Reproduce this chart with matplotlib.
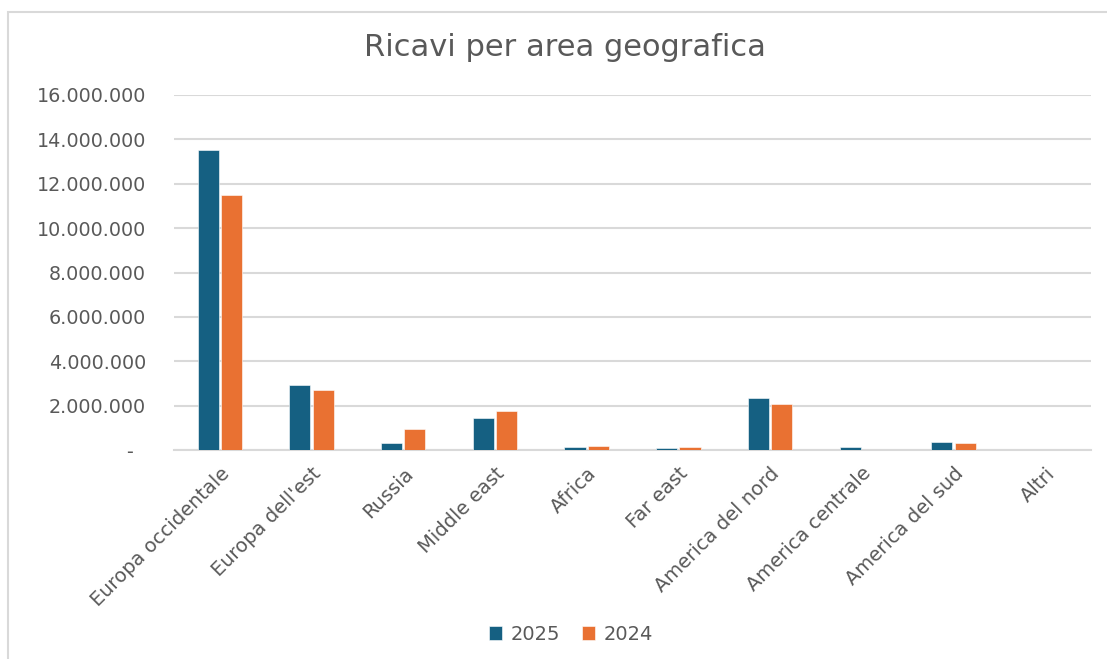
import matplotlib
matplotlib.use("Agg")
import matplotlib.pyplot as plt
import numpy as np
from matplotlib.patches import Rectangle
from matplotlib.ticker import FuncFormatter, MultipleLocator

categories = ["Europa occidentale", "Europa dell'est", "Russia", "Middle east", "Africa",
              "Far east", "America del nord", "America centrale", "America del sud", "Altri"]
series_names = ["2025", "2024"]
values_2025 = [13520000, 2930000, 320000, 1430000, 150000, 100000, 2330000, 150000, 360000, 0]
values_2024 = [11490000, 2700000, 930000, 1760000, 190000, 150000, 2060000, 0, 300000, 0]
colors = ["#156082", "#E97132"]

plt.rcParams['font.family'] = ['DejaVu Sans']
text_color = "#595959"

fig = plt.figure(figsize=(11.07, 6.59), dpi=100)
fig.patch.set_facecolor("white")
fig.patches.append(Rectangle((8/1107, -0.1), 1.2, 1 - 12/659 + 0.1, transform=fig.transFigure,
                             fill=False, edgecolor="#d9d9d9", linewidth=1.5, zorder=0))

ax = fig.add_axes([174/1107, 1 - 450/659, (1091-174)/1107, (450-95)/659])
x = np.arange(len(categories))
w = 0.23
gap = 0.025
ax.bar(x - (w + gap)/2, values_2025, w, color=colors[0], label=series_names[0], zorder=3,
       edgecolor="white", linewidth=0.4)
ax.bar(x + (w + gap)/2, values_2024, w, color=colors[1], label=series_names[1], zorder=3,
       edgecolor="white", linewidth=0.4)

ax.set_xlim(-0.5, len(categories) - 0.5)
ax.set_ylim(0, 16000000)
ax.yaxis.set_major_locator(MultipleLocator(2000000))

def fmt(v, pos):
    if v == 0:
        return "-  "
    return f"{int(round(v)):,}".replace(",", ".")
ax.yaxis.set_major_formatter(FuncFormatter(fmt))

ax.grid(axis='y', color="#d9d9d9", linewidth=1.5, zorder=0)
for s in ["top", "right", "left"]:
    ax.spines[s].set_visible(False)
ax.spines["bottom"].set_color("#d9d9d9")
ax.spines["bottom"].set_linewidth(1.5)
ax.tick_params(axis='y', length=0, colors=text_color, labelsize=13.8, pad=20)
ax.tick_params(axis='x', length=0, colors=text_color, labelsize=14, pad=10)
ax.set_xticks(x)
ax.set_xticklabels(categories, rotation=45, ha='right', rotation_mode='anchor')

fig.text(565/1107, 1 - 47/659, "Ricavi per area geografica", ha='center', va='center',
         fontsize=22, color=text_color)

leg = fig.legend(loc='center', bbox_to_anchor=(571/1107, 1 - 634/659), ncol=2, frameon=False,
                 fontsize=14, handlelength=0.7, handleheight=0.7, handletextpad=0.45,
                 columnspacing=1.1)
for t in leg.get_texts():
    t.set_color(text_color)

fig.savefig("out.png", dpi=100)
